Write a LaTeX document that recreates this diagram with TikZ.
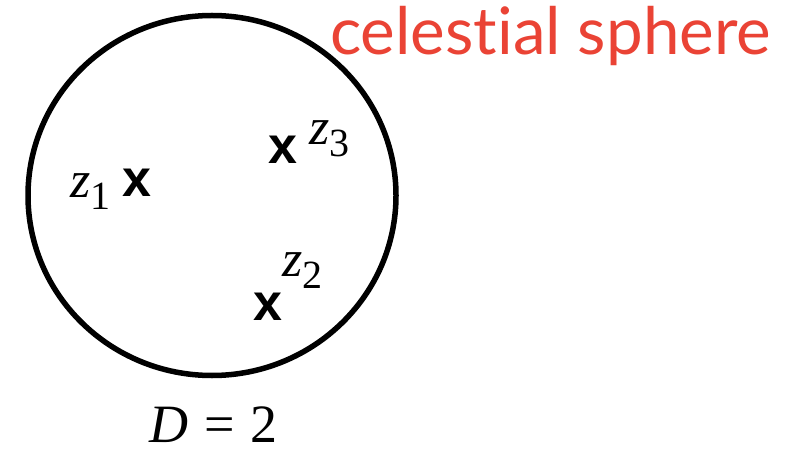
\documentclass[tikz,border=0pt]{standalone}
\usepackage{fontspec}
\usepackage{xcolor}
\usepackage{tikz}
\usetikzlibrary{shapes.geometric, positioning}
\setmainfont{Liberation Serif}
\newfontfamily\labelfont[Ligatures={NoCommon}]{Lato}
\newfontfamily\crossfont{Liberation Sans}
\definecolor{celestial}{RGB}{234,67,53}
\newcommand{\zlab}[1]{\itshape z\raisebox{-12pt}{\fontsize{40}{40}\selectfont\upshape #1}}

\begin{document}
\begin{tikzpicture}[
    x=1pt, y=-1pt,
    sphere/.style={ellipse, draw, line width=5.5pt, minimum width=368pt, minimum height=360pt, inner sep=0pt},
    point/.style={inner sep=0pt, font=\crossfont\bfseries\fontsize{52}{52}\selectfont},
    zname/.style={inner sep=0pt, anchor=base west, font=\fontsize{52}{52}\selectfont},
]
\useasboundingbox (0,0) rectangle (791,454);
\node[sphere] (sky) at (212,195.5) {};
\node[point] (p1) at (136.5,183) {x};
\node[point] (p2) at (267.5,306.5) {x};
\node[point] (p3) at (283,149.5) {x};
\node[zname] (z1) at (70,197) {\zlab{1}};
\node[zname] (z2) at (282,276) {\zlab{2}};
\node[zname] (z3) at (309,145) {\zlab{3}};
\node[inner sep=0pt, anchor=base west, text=celestial, font=\labelfont\fontsize{65.5}{66}\selectfont] (title) at (330,55) {celestial sphere};
\node[inner sep=0pt, anchor=base, font=\fontsize{54}{54}\selectfont] (dim) at (213.5,442) {\textit{D}\hspace{16pt}=\hspace{16pt}2};
\end{tikzpicture}
\end{document}
